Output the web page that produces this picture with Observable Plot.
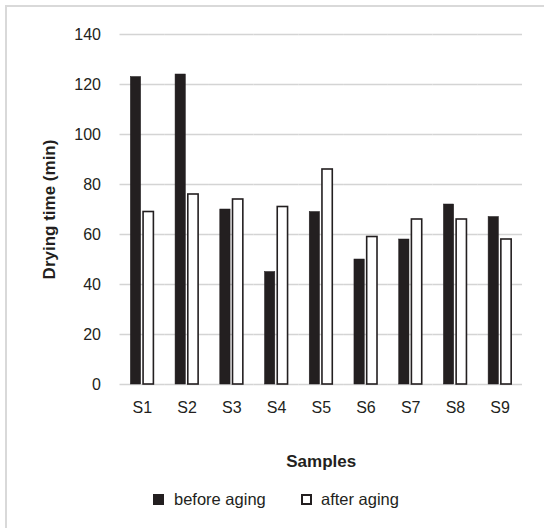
<!DOCTYPE html>
<html>
<head>
<meta charset="utf-8">
<script src="https://cdn.jsdelivr.net/npm/d3@7"></script>
<script src="https://cdn.jsdelivr.net/npm/@observablehq/plot@0.6"></script>
<style>
  html, body { margin: 0; padding: 0; background: #fff; }
  body { width: 544px; height: 528px; position: relative; overflow: hidden; font-family: "Liberation Sans", Arial, sans-serif; }
  #frame { position: absolute; left: 5px; top: 5px; right: -10px; bottom: -10px; border-left: 2px solid #d9d9d9; border-top: 2px solid #d9d9d9; }
  #chart { position: absolute; left: 0; top: 0; }
  #chart svg text { fill: #231f20; }
  g[aria-label="y-axis label"] text, g[aria-label="fx-axis label"] text { font-weight: bold; font-size: 17px; }
  #legend { position: absolute; left: 0; top: 489px; width: 544px; height: 22px; font-size: 16.5px; color: #231f20; }
  .sw { position: absolute; top: 5px; width: 11px; height: 11px; box-sizing: border-box; }
  .lab { position: absolute; top: 0px; line-height: 20px; }
</style>
</head>
<body>
<div id="frame"></div>
<div id="chart"></div>
<div id="legend">
  <div class="sw" style="left:153px;background:#231f20;"></div><div class="lab" style="left:174px;">before aging</div>
  <div class="sw" style="left:301px;background:#fff;border:2px solid #231f20;"></div><div class="lab" style="left:321px;">after aging</div>
</div>
<script>
const samples = ["S1","S2","S3","S4","S5","S6","S7","S8","S9"];
const series = ["before aging","after aging"];
const beforeAging = [123,124,70,45,69,50,58,72,67];
const afterAging = [69,76,74,71,86,59,66,66,58];
const yTicks = [0,20,40,60,80,100,120,140];

const data = [];
samples.forEach((s,i) => {
  data.push({sample: s, series: series[0], value: beforeAging[i]});
  data.push({sample: s, series: series[1], value: afterAging[i]});
});

const plot = Plot.plot({
  width: 544,
  height: 480,
  marginLeft: 119.5,
  marginRight: 22,
  marginTop: 34,
  marginBottom: 96,
  style: {fontFamily: '"Liberation Sans", Arial, sans-serif', fontSize: "16px", color: "#231f20", background: "transparent"},
  fx: {domain: samples, padding: 0, round: false},
  x: {domain: series, paddingInner: 0.19, paddingOuter: 0.85, round: false, axis: null},
  y: {domain: [0,140]},
  color: {domain: series, range: ["#231f20", "#ffffff"]},
  marks: [
    Plot.gridY(yTicks, {stroke: "#d4d4d4", strokeOpacity: 1, strokeWidth: 1.3}),
    Plot.axisY(yTicks, {tickSize: 0, tickPadding: 19, label: "Drying time (min)", labelArrow: false, labelAnchor: "center", labelOffset: 77, fontSize: 16}),
    Plot.axisFx({anchor: "bottom", tickSize: 0, tickPadding: 17, label: "Samples", labelAnchor: "center", labelOffset: 82, fontSize: 16}),
    Plot.barY(data, {fx: "sample", x: "series", y: "value", fill: "series", stroke: "#231f20", strokeWidth: d => d.series === series[1] ? 1.6 : 0.5})
  ]
});
document.getElementById("chart").appendChild(plot);
</script>
</body>
</html>
